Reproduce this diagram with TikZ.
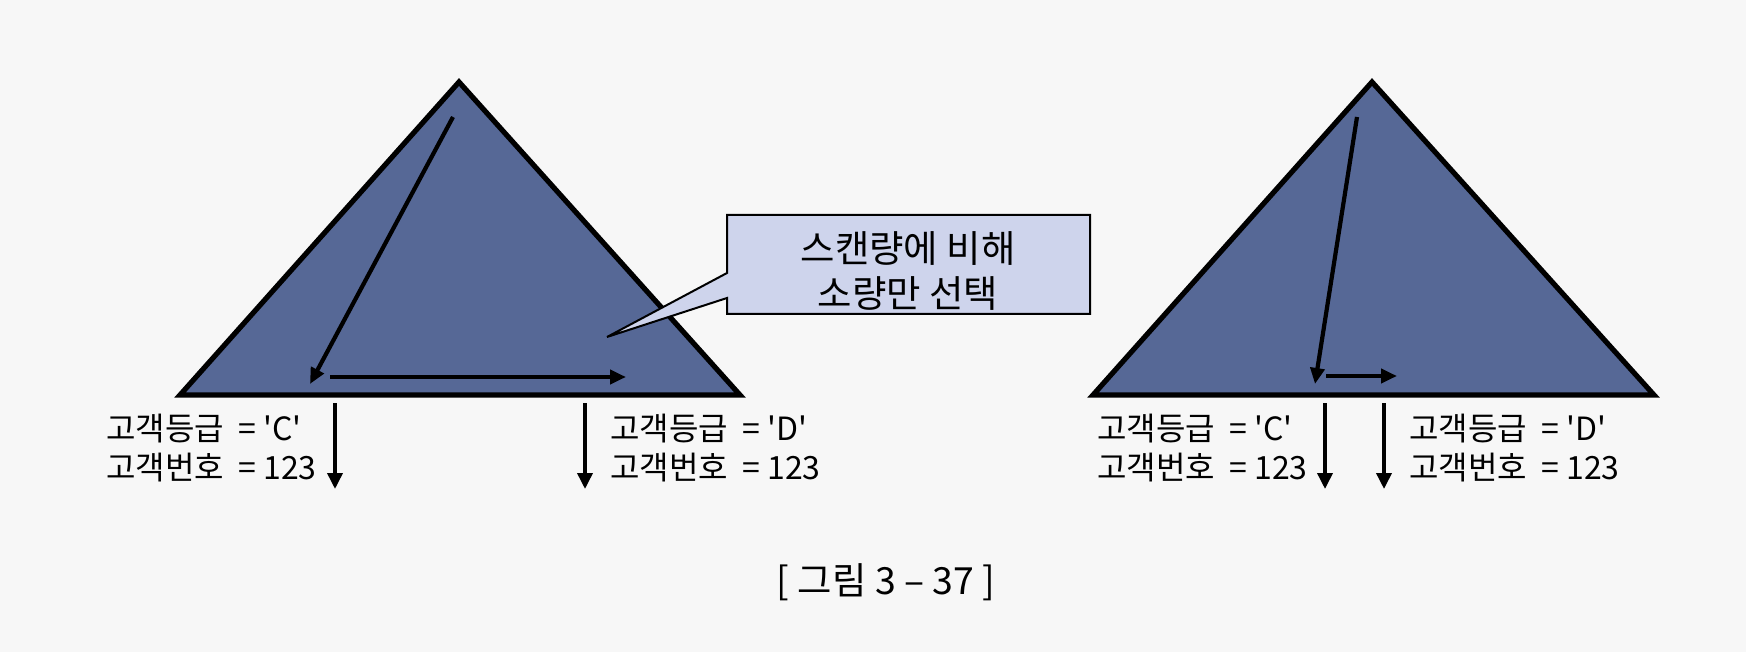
\documentclass[tikz,border=0pt]{standalone}
\usepackage{fontspec}
\setmainfont{Noto Sans CJK KR}[Ligatures=TeXOff]
\usetikzlibrary{arrows.meta}
\definecolor{tri}{RGB}{86,104,150}
\definecolor{callbg}{RGB}{206,212,236}
\definecolor{pagebg}{RGB}{247,247,247}
\newcommand\eqs{\hspace{0.45em}=\hspace{0.22em}}
\tikzset{
  tribox/.style={fill=tri, draw=black, line width=2.6pt, line join=miter},
  scanarrow/.style={draw=black, line width=2.1pt, -{Triangle[length=8pt,width=7pt]}},
  downarrow/.style={draw=black, line width=1.8pt, -{Triangle[length=8pt,width=7.5pt]}},
  lbl/.style={font=\fontsize{16pt}{19.5pt}\selectfont, align=left, inner sep=0pt, anchor=west},
  calltxt/.style={font=\fontsize{18.7pt}{22.3pt}\selectfont, align=center, inner sep=0pt},
}
\begin{document}
\begin{tikzpicture}[x=0.5pt,y=-0.5pt]
\useasboundingbox (0,0) rectangle (1746,652);
\fill[pagebg] (0,0) rectangle (1746,652);
% left triangle
\coordinate (LA) at (459,82);
\coordinate (LL) at (180,395);
\coordinate (LR) at (740,395);
\draw[tribox] (LA) -- (LL) -- (LR) -- cycle;
\coordinate (l1s) at (453,117);
\coordinate (l1e) at (310,384);
\coordinate (l2s) at (330,377);
\coordinate (l2e) at (626,377);
\draw[scanarrow] (l1s) -- (l1e);
\draw[scanarrow] (l2s) -- (l2e);
% left down arrows
\coordinate (ld1s) at (335,403);
\coordinate (ld1e) at (335,489);
\coordinate (ld2s) at (585,403);
\coordinate (ld2e) at (585,489);
\draw[downarrow] (ld1s) -- (ld1e);
\draw[downarrow] (ld2s) -- (ld2e);
\node[lbl] (lc) at (106,448) {고객등급\eqs'C'\\고객번호\eqs 123};
\node[lbl] (ld) at (610,448) {고객등급\eqs'D'\\고객번호\eqs 123};
% callout
\draw[fill=callbg, draw=black, line width=1pt] (727,215) -- (1090,215) -- (1090,314) -- (727,314) -- (727,298) -- (607,337) -- (727,273) -- cycle;
\node[calltxt] (call) at (908,271) {스캔량에 비해\\소량만 선택};
% right triangle
\coordinate (RA) at (1372,82);
\coordinate (RL) at (1093,395);
\coordinate (RR) at (1654,395);
\draw[tribox] (RA) -- (RL) -- (RR) -- cycle;
\coordinate (r1s) at (1357,117);
\coordinate (r1e) at (1315,384);
\coordinate (r2s) at (1326,376);
\coordinate (r2e) at (1397,376);
\draw[scanarrow] (r1s) -- (r1e);
\draw[scanarrow] (r2s) -- (r2e);
\coordinate (rd1s) at (1325,403);
\coordinate (rd1e) at (1325,489);
\coordinate (rd2s) at (1384,403);
\coordinate (rd2e) at (1384,489);
\draw[downarrow] (rd1s) -- (rd1e);
\draw[downarrow] (rd2s) -- (rd2e);
\node[lbl] (rc) at (1097,448) {고객등급\eqs'C'\\고객번호\eqs 123};
\node[lbl] (rdl) at (1409,448) {고객등급\eqs'D'\\고객번호\eqs 123};
% caption
\node[font=\fontsize{18.7pt}{22pt}\selectfont, inner sep=0pt] (cap) at (886,582) {[ 그림 3 – 37 ]};
\end{tikzpicture}
\end{document}
